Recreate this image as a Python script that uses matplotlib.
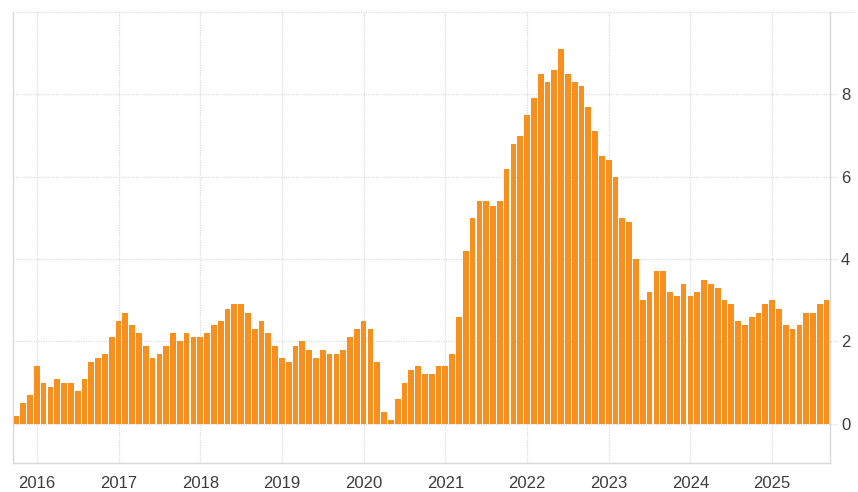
import matplotlib
matplotlib.use("Agg")
import matplotlib.pyplot as plt
import matplotlib.transforms as mtransforms
import numpy as np

# Monthly year-on-year values, Oct 2015 .. Sep 2025
start_year, start_month = 2015, 10
values = [
    0.2, 0.5, 0.7,                                                  # 2015 Oct-Dec
    1.4, 1.0, 0.9, 1.1, 1.0, 1.0, 0.8, 1.1, 1.5, 1.6, 1.7, 2.1,     # 2016
    2.5, 2.7, 2.4, 2.2, 1.9, 1.6, 1.7, 1.9, 2.2, 2.0, 2.2, 2.1,     # 2017
    2.1, 2.2, 2.4, 2.5, 2.8, 2.9, 2.9, 2.7, 2.3, 2.5, 2.2, 1.9,     # 2018
    1.6, 1.5, 1.9, 2.0, 1.8, 1.6, 1.8, 1.7, 1.7, 1.8, 2.1, 2.3,     # 2019
    2.5, 2.3, 1.5, 0.3, 0.1, 0.6, 1.0, 1.3, 1.4, 1.2, 1.2, 1.4,     # 2020
    1.4, 1.7, 2.6, 4.2, 5.0, 5.4, 5.4, 5.3, 5.4, 6.2, 6.8, 7.0,     # 2021
    7.5, 7.9, 8.5, 8.3, 8.6, 9.1, 8.5, 8.3, 8.2, 7.7, 7.1, 6.5,     # 2022
    6.4, 6.0, 5.0, 4.9, 4.0, 3.0, 3.2, 3.7, 3.7, 3.2, 3.1, 3.4,     # 2023
    3.1, 3.2, 3.5, 3.4, 3.3, 3.0, 2.9, 2.5, 2.4, 2.6, 2.7, 2.9,     # 2024
    3.0, 2.8, 2.4, 2.3, 2.4, 2.7, 2.7, 2.9, 3.0,                   # 2025 Jan-Sep
]
year_labels = ["2016", "2017", "2018", "2019", "2020", "2021", "2022", "2023", "2024", "2025"]
y_ticks = [0, 2, 4, 6, 8]

plt.rcParams["font.family"] = ["Liberation Sans", "DejaVu Sans"]

# month index relative to Jan 2016
offset = (start_year - 2016) * 12 + (start_month - 1)
x = np.arange(len(values)) + offset
year_pos = [(int(y) - 2016) * 12 for y in year_labels]

fig = plt.figure(figsize=(8.58, 4.92), dpi=100)
ax = fig.add_axes([13 / 858, 1 - 463 / 492, (830 - 13) / 858, (463 - 12) / 492])

bar_color = "#F7901E"
grid_color = "#dcdcdc"
spine_color = "#d9d9d9"

ax.bar(x, values, width=0.84, color=bar_color, zorder=3, linewidth=0)

ax.set_xlim(x[0] - 0.5, x[-1] + 0.5)
ax.set_ylim(-0.95, 10)

# vertical gridlines at each January
for p in year_pos:
    ax.axvline(p, color=grid_color, linestyle=(0, (1, 1)), linewidth=0.9, zorder=1)

# horizontal gridlines extending slightly past the right spine
trans = mtransforms.blended_transform_factory(ax.transAxes, ax.transData)
for v in y_ticks + [10]:
    xend = 1.03 if v == 10 else 1.009
    ax.plot([0, xend], [v, v], transform=trans, color=grid_color,
            linestyle=(0, (1, 1)), linewidth=0.9, zorder=1, clip_on=False)

ax.set_xticks(year_pos)
ax.set_xticklabels(year_labels)
ax.set_yticks(y_ticks)
ax.set_yticklabels([str(v) for v in y_ticks])
ax.yaxis.tick_right()
ax.tick_params(axis="y", length=0, pad=8, labelsize=12, labelcolor="#3c3c3c")
ax.tick_params(axis="x", length=0, pad=9, labelsize=12, labelcolor="#3c3c3c")

for s in ["left", "right", "bottom"]:
    ax.spines[s].set_color(spine_color)
    ax.spines[s].set_linewidth(1.0)
ax.spines["top"].set_visible(False)

fig.savefig("out.png", dpi=100, facecolor="white")
